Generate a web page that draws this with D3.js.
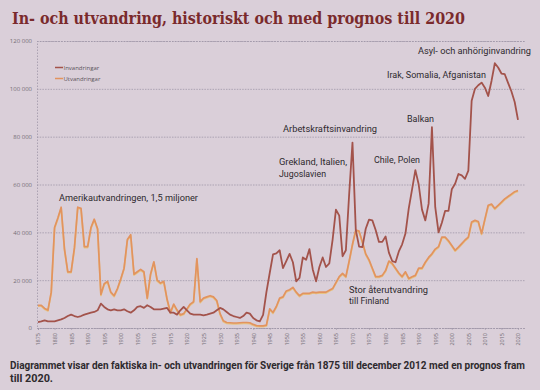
<!DOCTYPE html>
<html>
<head>
<meta charset="utf-8">
<script src="https://cdn.jsdelivr.net/npm/d3@7"></script>
<style>
  html, body { margin: 0; padding: 0; background: #dacfd9; }
  svg { display: block; }
</style>
</head>
<body>
<svg id="chart" width="540" height="390"></svg>
<script>
const title = "In- och utvandring, historiskt och med prognos till 2020";
const captionLines = [
  "Diagrammet visar den faktiska in- och utvandringen för Sverige från 1875 till december 2012 med en prognos fram",
  "till 2020."
];
const seriesNames = ["Invandringar", "Utvandringar"];

const firstYear = 1875;
const lastYear = 2020;

// Invandringar (immigration) 1875–2020
const invandringar = [
  2500, 2800, 3200, 2800, 2800, 2800, 3200, 3600, 4200, 5000,
  5600, 5000, 4600, 5000, 5600, 6000, 6400, 6700, 7400, 10200,
  8800, 7800, 7400, 7800, 7400, 7400, 7800, 7000, 6400, 7400,
  8800, 9100, 8400, 9500, 8800, 7800, 7800, 7800, 8100, 8400,
  6400, 6400, 5600, 7400, 8800, 7400, 6000, 5600, 5600, 5600,
  5300, 5600, 6000, 6400, 7400, 8400, 7800, 6700, 5600, 5000,
  4600, 4200, 5000, 6400, 6000, 4200, 3200, 2800, 5500, 15000,
  23000, 30800, 31200, 32500, 25000, 28000, 31000, 27500, 19500, 21000,
  29500, 28500, 33000, 24500, 19500, 25500, 29500, 25500, 27000, 37000,
  49500, 47000, 30000, 32500, 56000, 77500, 41000, 34000, 33800, 41500,
  45300, 45000, 41000, 36000, 36000, 38300, 31500, 28000, 27500, 32000,
  35000, 39500, 50000, 58000, 66000, 60000, 49500, 45000, 52000, 84000,
  50500, 40000, 44000, 49000, 49000, 58000, 60300, 64400, 63800, 62400,
  65800, 95000, 100000, 101500, 102600, 100500, 97000, 103300, 110700, 108900,
  106400, 106100, 102500, 99000, 94500, 87000
];

// Utvandringar (emigration) 1875–2020
const utvandringar = [
  9500, 9500, 8200, 7500, 15000, 42000, 46000, 50500, 33000, 23500,
  23500, 33500, 50500, 50000, 34000, 34000, 42000, 45500, 41500, 14000,
  18500, 19500, 15000, 13500, 16500, 20500, 25000, 37000, 39000, 22500,
  23500, 24500, 23500, 12500, 22500, 27700, 20000, 18800, 19500, 12000,
  6500, 10000, 7500, 5500, 6000, 8000, 10000, 11000, 29000, 11000,
  12500, 13000, 13500, 13000, 11500, 6000, 3000, 2300, 2200, 2100,
  2100, 2200, 2300, 2300, 2200, 1500, 1000, 900, 900, 1200,
  8000, 6500, 9000, 12500, 13000, 15500, 16000, 17000, 15000, 13500,
  14500, 14500, 14500, 15000, 14800, 15000, 15000, 15000, 15800, 16500,
  19000, 21500, 22800, 21500, 28000, 35000, 41000, 40500, 36000, 31000,
  28500, 25000, 21500, 21500, 22000, 24000, 28000, 27000, 25000, 23000,
  21500, 23500, 20700, 21400, 22000, 25000, 25000, 27500, 29500, 31000,
  33000, 34000, 38000, 38000, 36500, 34500, 32500, 33800, 35300, 36800,
  38000, 44300, 45000, 44500, 39500, 45500, 51300, 51800, 50000, 51300,
  52600, 54000, 55000, 56000, 57000, 57500
];

const xTickYears = [1875,1880,1885,1890,1895,1900,1905,1910,1915,1920,1925,1930,1935,1940,1945,
                    1950,1955,1960,1965,1970,1975,1980,1985,1990,1995,2000,2005,2010,2015,2020];
const yTickValues = [0, 20000, 40000, 60000, 80000, 100000, 120000];

const annotations = [
  {text: "Amerikautvandringen, 1,5 miljoner", x: 59, y: 200.5, w: 139, fs: 9.8},
  {text: "Arbetskraftsinvandring", x: 283, y: 132, w: 94, fs: 9.8},
  {text: "Grekland, Italien,", x: 279, y: 164.5, w: 68, fs: 9.8},
  {text: "Jugoslavien", x: 279, y: 176.5, w: 47, fs: 9.8},
  {text: "Chile, Polen", x: 374, y: 162.5, w: 46, fs: 9.8},
  {text: "Balkan", x: 407, y: 121.5, w: 27, fs: 9.8},
  {text: "Irak, Somalia, Afganistan", x: 387, y: 77.5, w: 99, fs: 9.8},
  {text: "Asyl- och anhöriginvandring", x: 418, y: 54, w: 113, fs: 9.0},
  {text: "Stor återutvandring", x: 349, y: 292.5, w: 79, fs: 9.8},
  {text: "till Finland", x: 349, y: 304, w: 40, fs: 9.8}
];

const colors = {bg: "#dacfd9", inv: "#a3534b", utv: "#e2935f", utvGlow: "#e8c27a",
                grid: "#9f97a8", title: "#7a2a2c", text: "#2e2a2e", tick: "#746d76"};

const svg = d3.select("#chart");
svg.append("rect").attr("width", 540).attr("height", 390).attr("fill", colors.bg);

const years = d3.range(firstYear, lastYear + 1);
const x = d3.scaleLinear().domain([firstYear, lastYear]).range([38, 518]);
const y = d3.scaleLinear().domain([0, 120000]).range([328, 41]);

// title
svg.append("text")
  .attr("x", 12).attr("y", 24)
  .attr("font-family", "DejaVu Serif, Liberation Serif, serif")
  .attr("font-weight", "bold").attr("font-size", 16)
  .attr("fill", colors.title)
  .attr("textLength", 453).attr("lengthAdjust", "spacingAndGlyphs")
  .text(title);

// grid + y axis
const yAxis = d3.axisLeft(y).tickValues(yTickValues)
  .tickFormat(d => d === 0 ? "0" : d3.format(",")(d).replace(/,/g, " "))
  .tickSize(-(525 - 37)).tickPadding(5);
const gy = svg.append("g").attr("transform", "translate(37,0)").call(yAxis);
gy.select(".domain").attr("stroke", colors.grid).attr("stroke-width", 0.8).attr("stroke-dasharray", "1.5,1.5");
gy.selectAll(".tick line").attr("stroke", colors.grid).attr("stroke-width", 0.8).attr("stroke-dasharray", "1.5,1.2");
gy.selectAll(".tick text").attr("font-family", "Open Sans, sans-serif").attr("font-size", 6)
  .attr("fill", colors.tick);

// x axis
const xAxis = d3.axisBottom(x).tickValues(xTickYears).tickFormat(d3.format("d")).tickSize(2);
const gx = svg.append("g").attr("transform", "translate(0,328)").call(xAxis);
gx.select(".domain").attr("stroke", colors.grid).attr("stroke-width", 0.8).attr("stroke-dasharray", "1.5,1.2");
gx.selectAll(".tick line").attr("stroke", colors.grid).attr("stroke-width", 0.6);
gx.selectAll(".tick text")
  .attr("font-family", "Open Sans, sans-serif").attr("font-size", 5.5)
  .attr("fill", colors.tick)
  .attr("text-anchor", "end")
  .attr("transform", "rotate(-90)")
  .attr("x", -5).attr("y", 0).attr("dy", "0.35em");

// lines
const line = d3.line().x((d, i) => x(years[i])).y(d => y(d)).curve(d3.curveLinear);

svg.append("path").datum(utvandringar)
  .attr("d", line).attr("fill", "none")
  .attr("stroke", colors.utvGlow).attr("stroke-width", 1.7).attr("stroke-linejoin", "round")
  .attr("transform", "translate(0,0.9)").attr("opacity", 0.9);
svg.append("path").datum(utvandringar)
  .attr("d", line).attr("fill", "none")
  .attr("stroke", colors.utv).attr("stroke-width", 1.7).attr("stroke-linejoin", "round");
svg.append("path").datum(invandringar)
  .attr("d", line).attr("fill", "none")
  .attr("stroke", colors.inv).attr("stroke-width", 1.8).attr("stroke-linejoin", "round");

// legend
const legend = svg.append("g");
[[seriesNames[0], colors.inv, 67.5], [seriesNames[1], colors.utv, 78.5]].forEach(([name, c, ly]) => {
  legend.append("line").attr("x1", 55).attr("x2", 63).attr("y1", ly).attr("y2", ly)
    .attr("stroke", c).attr("stroke-width", 1.5);
  legend.append("text").attr("x", 63.5).attr("y", ly).attr("dy", "0.35em")
    .attr("font-family", "Open Sans, sans-serif").attr("font-size", 6)
    .attr("fill", "#5a535a").text(name);
});

// annotations
svg.append("g").selectAll("text").data(annotations).join("text")
  .attr("x", d => d.x).attr("y", d => d.y)
  .attr("font-family", "Roboto, Open Sans, sans-serif").attr("font-size", d => d.fs)
  .attr("fill", colors.text)
  .attr("textLength", d => d.w).attr("lengthAdjust", "spacingAndGlyphs")
  .text(d => d.text);

// caption
svg.append("text").attr("x", 10).attr("y", 368.5)
  .attr("font-family", "Roboto, Open Sans, sans-serif").attr("font-weight", "bold")
  .attr("font-size", 10.3).attr("fill", colors.text)
  .attr("textLength", 515).attr("lengthAdjust", "spacingAndGlyphs")
  .text(captionLines[0]);
svg.append("text").attr("x", 10).attr("y", 381.5)
  .attr("font-family", "Roboto, Open Sans, sans-serif").attr("font-weight", "bold")
  .attr("font-size", 10.3).attr("fill", colors.text)
  .attr("textLength", 43).attr("lengthAdjust", "spacingAndGlyphs")
  .text(captionLines[1]);
</script>
</body>
</html>
